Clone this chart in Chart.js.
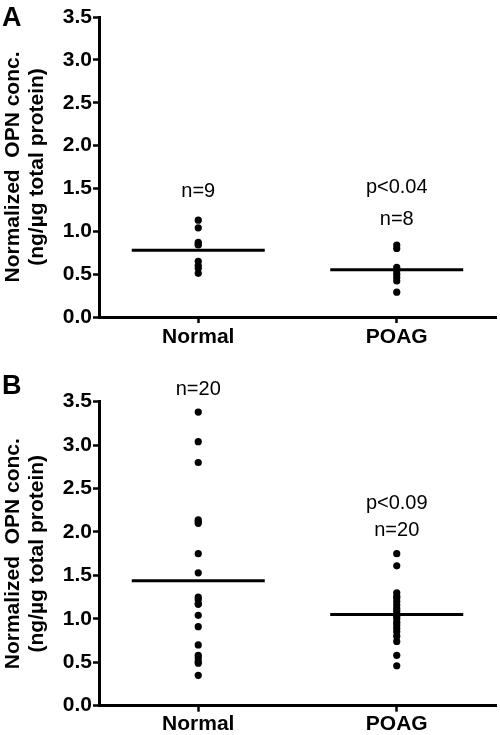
<!DOCTYPE html>
<html><head><meta charset="utf-8">
<script src="https://cdn.jsdelivr.net/npm/chart.js@4.4.0/dist/chart.umd.min.js"></script>
<style>
html,body{margin:0;padding:0;background:#fff;}
#wrap{position:relative;width:500px;height:735px;overflow:hidden;}
canvas{position:absolute;left:0;}
</style></head><body>
<div id="wrap">
<canvas id="cA" width="500" height="367" style="top:0"></canvas>
<canvas id="cB" width="500" height="368" style="top:367px"></canvas>
</div>
<script>
// ---- data ----
const categories = ['Normal', 'POAG'];
const yTickLabels = ['0.0', '0.5', '1.0', '1.5', '2.0', '2.5', '3.0', '3.5'];
const yTitle = ['Normalized  OPN conc.', '(ng/\u00b5g total protein)'];
const panelLabels = ['A', 'B'];

const normalA = [1.13, 1.04, 0.87, 0.85, 0.84, 0.65, 0.60, 0.57, 0.51];
const poagA   = [0.84, 0.80, 0.58, 0.54, 0.50, 0.46, 0.42, 0.29];
const meanA   = [0.78, 0.55];
const notesA  = [['n=9'], ['p<0.04', 'n=8']];

const normalB = [3.38, 3.04, 2.80, 2.14, 2.12, 2.10, 1.75, 1.53, 1.25, 1.22, 1.17, 1.17,
                 1.04, 0.91, 0.70, 0.58, 0.55, 0.51, 0.49, 0.35];
const poagB   = [1.75, 1.61, 1.30, 1.26, 1.24, 1.20, 1.16, 1.12, 1.09, 1.06, 1.03, 1.00,
                 0.96, 0.93, 0.89, 0.85, 0.80, 0.74, 0.58, 0.46];
const meanB   = [1.44, 1.05];
const notesB  = [['n=20'], ['p<0.09', 'n=20']];

// ---- rendering ----
const FAMILY = '"Liberation Sans", Arial, Helvetica, sans-serif';
Chart.defaults.font.family = FAMILY;
Chart.defaults.color = '#000';

function buildChart(canvasId, groups, means, notes, label, layoutCfg) {
  const datasets = [];
  groups.forEach((vals, i) => {
    datasets.push({
      type: 'scatter',
      data: vals.map(v => ({x: i, y: v})),
      pointRadius: 3.6,
      pointBackgroundColor: '#000',
      pointBorderWidth: 0,
      showLine: false
    });
  });
  means.forEach((m, i) => {
    datasets.push({
      type: 'scatter',
      data: [{x: i - layoutCfg.half, y: m}, {x: i + layoutCfg.half, y: m}],
      showLine: true,
      borderColor: '#000',
      borderWidth: 3,
      pointRadius: 0
    });
  });

  const textPlugin = {
    id: 'texts' + canvasId,
    afterDraw(chart) {
      const ctx = chart.ctx;
      const xs = chart.scales.x, ys = chart.scales.y;
      ctx.save();
      ctx.fillStyle = '#000';
      ctx.textBaseline = 'alphabetic';
      ctx.font = '20px ' + FAMILY;
      ctx.textAlign = 'center';
      notes.forEach((lines, i) => {
        lines.forEach((t, j) => {
          const yv = layoutCfg.noteY[i][j];
          ctx.fillText(t, xs.getPixelForValue(i), ys.getPixelForValue(yv));
        });
      });
      ctx.font = 'bold 27px ' + FAMILY;
      ctx.textAlign = 'left';
      ctx.fillText(label, 2, layoutCfg.labelBaseline);
      ctx.restore();
    }
  };

  return new Chart(document.getElementById(canvasId), {
    type: 'scatter',
    data: {datasets},
    plugins: [textPlugin],
    options: {
      responsive: false,
      devicePixelRatio: 1,
      animation: false,
      layout: {padding: {top: layoutCfg.top, right: 3, bottom: 0, left: 0}},
      plugins: {legend: {display: false}, tooltip: {enabled: false}},
      scales: {
        x: {
          type: 'linear',
          min: -0.5, max: 1.5,
          afterBuildTicks: s => { s.ticks = categories.map((c, i) => ({value: i})); },
          afterFit: s => { s.height = layoutCfg.xHeight; },
          ticks: {
            callback: v => categories[v],
            font: {size: 21, weight: 'bold'},
            color: '#000',
            padding: layoutCfg.xPad,
            maxRotation: 0
          },
          grid: {drawOnChartArea: false, drawTicks: true, tickLength: 6, tickWidth: 2.5, tickColor: '#000'},
          border: {display: true, width: 3, color: '#000'}
        },
        y: {
          min: 0, max: 3.5,
          afterFit: s => { s.width = 99; },
          ticks: {
            stepSize: 0.5,
            callback: (v, idx) => yTickLabels[idx],
            font: {size: 21, weight: 'bold'},
            color: '#000',
            padding: 1
          },
          grid: {drawOnChartArea: false, drawTicks: true, tickLength: 6, tickWidth: 2.5, tickColor: '#000'},
          border: {display: true, width: 3, color: '#000'},
          title: {
            display: true,
            text: yTitle,
            font: {size: 21, weight: 'bold', lineHeight: 1.143},
            color: '#000',
            padding: {top: 1, bottom: 0}
          }
        }
      }
    }
  });
}

buildChart('cA', [normalA, poagA], meanA, notesA, panelLabels[0], {
  top: 17, xHeight: 50, xPad: 2, half: 0.335, labelBaseline: 26,
  noteY: [[1.40], [1.45, 1.07]]
});
buildChart('cB', [normalB, poagB], meanB, notesB, panelLabels[1], {
  top: 34.7, xHeight: 29.3, xPad: 0, half: 0.335, labelBaseline: 27,
  noteY: [[3.58], [2.27, 1.95]]
});
</script>
</body></html>
